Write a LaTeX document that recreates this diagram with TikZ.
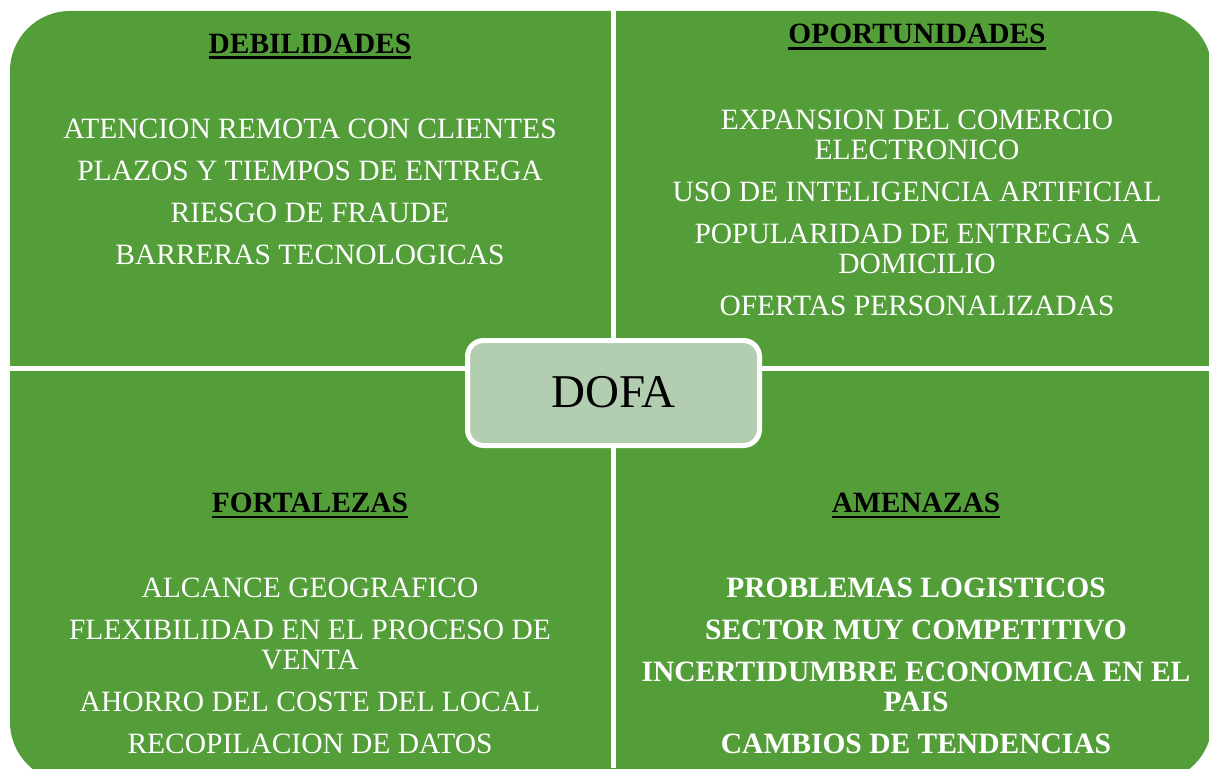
\documentclass[tikz,border=0pt]{standalone}
\usepackage{fontspec}
\setmainfont{Liberation Serif}
\newcommand{\rayado}[1]{\setbox0\hbox{#1}\rlap{\rule[-6pt]{\wd0}{2.5pt}}\box0}

\begin{document}
\begin{tikzpicture}
		[x=1pt,y=-1pt,line cap=round,
		%Styles
		title text/.style={font=\fontsize{29.4}{30}\selectfont\bfseries,anchor=base,inner sep=0pt},
		item text/.style={font=\fontsize{29.5}{30}\selectfont,text=white,align=center,anchor=base,inner sep=0pt},
		gap line/.style={white,line width=5pt,line cap=butt},
		center box/.style={draw=white,line width=5pt,fill=boxgreen,rounded corners=16pt,
			minimum width=292pt,minimum height=105pt,font=\fontsize{47}{47}\selectfont,text depth=2pt}
		]
		
		%Colors
		\definecolor{quadgreen}{RGB}{84,158,58}
		\definecolor{boxgreen}{RGB}{179,205,176}
		
		%The graphic
		\useasboundingbox (0,0) rectangle (1209,768);
		\clip (0,0) rectangle (1209,768);
		\fill[quadgreen,rounded corners=60pt] (10,11) rectangle (1212,782);
		\draw[gap line] (613.5,0) -- (613.5,768);
		\draw[gap line] (0,368.5) -- (1209,368.5);
		
		\node[title text] (debtit) at (310,53) {\rayado{DEBILIDADES}};
		\node[title text] (opotit) at (917,44) {\rayado{OPORTUNIDADES}};
		\node[title text] (fortit) at (310,512) {\rayado{FORTALEZAS}};
		\node[title text] (amentit) at (916,512) {\rayado{AMENAZAS}};
		
		% base = baseline of the last line
		\node[item text] (debtxt) at (310,264) {ATENCION REMOTA CON CLIENTES\\[12pt]
			PLAZOS Y TIEMPOS DE ENTREGA\\[12pt] RIESGO DE FRAUDE\\[12pt] BARRERAS TECNOLOGICAS};
		\node[item text] (opotxt) at (917,315) {EXPANSION DEL COMERCIO\\ ELECTRONICO\\[12pt]
			USO DE INTELIGENCIA ARTIFICIAL\\[12pt] POPULARIDAD DE ENTREGAS A\\ DOMICILIO\\[12pt]
			OFERTAS PERSONALIZADAS};
		\node[item text] (fortxt) at (310,753) {ALCANCE GEOGRAFICO\\[12pt]
			FLEXIBILIDAD EN EL PROCESO DE\\ VENTA\\[12pt] AHORRO DEL COSTE DEL LOCAL\\[12pt]
			RECOPILACION DE DATOS};
		\node[item text,font=\fontsize{29.5}{30}\selectfont\bfseries] (amentxt) at (916,753) {PROBLEMAS LOGISTICOS\\[12pt]
			SECTOR MUY COMPETITIVO\\[12pt] INCERTIDUMBRE ECONOMICA EN EL\\ PAIS\\[12pt]
			CAMBIOS DE TENDENCIAS};
		
		\node[center box] (dofa) at (613.5,393) {DOFA};
	\end{tikzpicture}
\end{document}
